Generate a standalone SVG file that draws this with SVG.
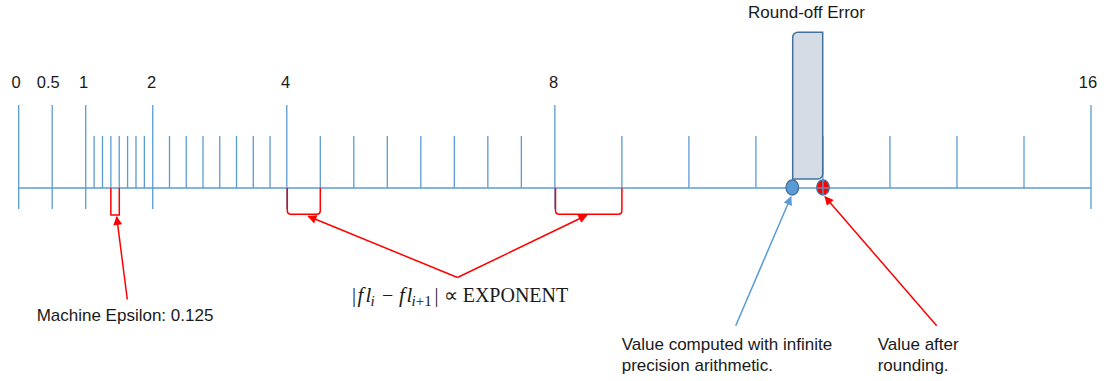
<svg xmlns="http://www.w3.org/2000/svg" width="1104" height="381" viewBox="0 0 1104 381">
  <style>
    .ax { stroke: #5b9bd5; stroke-width: 1.3; fill: none; }
    .lbl { font-family: "Liberation Sans", Arial, sans-serif; font-size: 17px; fill: #1a1a1a; }
    .num { font-family: "Liberation Sans", Arial, sans-serif; font-size: 16.5px; fill: #1a1a1a; text-anchor: middle; }
    .math { font-family: "Liberation Serif", "Times New Roman", serif; font-size: 20px; fill: #1a1a1a; }
    .it { font-style: italic; font-size: 21px; }
    .sub { font-size: 15px; }
    .red { stroke: #ff0000; stroke-width: 1.5; fill: none; }
    .blue { stroke: #5b9bd5; stroke-width: 1.5; fill: none; }
  </style>
  <defs>
    <marker id="ahRed" viewBox="0 0 10 10" refX="9" refY="5" markerWidth="10" markerHeight="9" markerUnits="userSpaceOnUse" orient="auto">
      <path d="M0,0 L10,5 L0,10 z" fill="#ff0000"/>
    </marker>
    <marker id="ahBlue" viewBox="0 0 10 10" refX="9" refY="5" markerWidth="10" markerHeight="9" markerUnits="userSpaceOnUse" orient="auto">
      <path d="M0,0 L10,5 L0,10 z" fill="#5b9bd5"/>
    </marker>
  </defs>

  <g id="number-line">
    <line class="ax" x1="18.7" y1="188" x2="1091" y2="188"/>
    <g id="major-ticks">
      <line class="ax" x1="18.7" y1="105" x2="18.7" y2="209"/>
      <line class="ax" x1="52.21" y1="105" x2="52.21" y2="209"/>
      <line class="ax" x1="85.72" y1="105" x2="85.72" y2="209"/>
      <line class="ax" x1="152.74" y1="105" x2="152.74" y2="209"/>
      <line class="ax" x1="286.78" y1="105" x2="286.78" y2="209"/>
      <line class="ax" x1="554.86" y1="105" x2="554.86" y2="209"/>
      <line class="ax" x1="1091" y1="105" x2="1091" y2="209"/>
    </g>
    <g id="minor-ticks">
      <line class="ax" x1="94.10" y1="136" x2="94.10" y2="188"/>
      <line class="ax" x1="102.48" y1="136" x2="102.48" y2="188"/>
      <line class="ax" x1="110.85" y1="136" x2="110.85" y2="188"/>
      <line class="ax" x1="119.23" y1="136" x2="119.23" y2="188"/>
      <line class="ax" x1="127.61" y1="136" x2="127.61" y2="188"/>
      <line class="ax" x1="135.99" y1="136" x2="135.99" y2="188"/>
      <line class="ax" x1="144.36" y1="136" x2="144.36" y2="188"/>
      <line class="ax" x1="169.50" y1="136" x2="169.50" y2="188"/>
      <line class="ax" x1="186.25" y1="136" x2="186.25" y2="188"/>
      <line class="ax" x1="203.01" y1="136" x2="203.01" y2="188"/>
      <line class="ax" x1="219.76" y1="136" x2="219.76" y2="188"/>
      <line class="ax" x1="236.52" y1="136" x2="236.52" y2="188"/>
      <line class="ax" x1="253.27" y1="136" x2="253.27" y2="188"/>
      <line class="ax" x1="270.03" y1="136" x2="270.03" y2="188"/>
      <line class="ax" x1="320.29" y1="136" x2="320.29" y2="188"/>
      <line class="ax" x1="353.80" y1="136" x2="353.80" y2="188"/>
      <line class="ax" x1="387.31" y1="136" x2="387.31" y2="188"/>
      <line class="ax" x1="420.82" y1="136" x2="420.82" y2="188"/>
      <line class="ax" x1="454.33" y1="136" x2="454.33" y2="188"/>
      <line class="ax" x1="487.84" y1="136" x2="487.84" y2="188"/>
      <line class="ax" x1="521.35" y1="136" x2="521.35" y2="188"/>
      <line class="ax" x1="621.88" y1="136" x2="621.88" y2="188"/>
      <line class="ax" x1="688.90" y1="136" x2="688.90" y2="188"/>
      <line class="ax" x1="755.92" y1="136" x2="755.92" y2="188"/>
      <line class="ax" x1="822.94" y1="136" x2="822.94" y2="188"/>
      <line class="ax" x1="889.96" y1="136" x2="889.96" y2="188"/>
      <line class="ax" x1="956.98" y1="136" x2="956.98" y2="188"/>
      <line class="ax" x1="1024.00" y1="136" x2="1024.00" y2="188"/>
    </g>
  </g>

  <g id="tick-labels">
    <text class="num" x="16" y="87.5">0</text>
    <text class="num" x="48.3" y="87.5">0.5</text>
    <text class="num" x="83.5" y="87.5">1</text>
    <text class="num" x="151.7" y="87.5">2</text>
    <text class="num" x="285.5" y="87.5">4</text>
    <text class="num" x="553.5" y="87.5">8</text>
    <text class="num" x="1088" y="87.5">16</text>
  </g>

  <g id="round-off-error">
    <path d="M797.7,32.3 H822.7 V174 A5,5 0 0 1 817.7,179 H792.7 V37.3 A5,5 0 0 1 797.7,32.3 Z" fill="#d6dce5" stroke="#41719c" stroke-width="1.5"/>
    <text class="lbl" x="806.5" y="17.5" text-anchor="middle">Round-off Error</text>
  </g>

  <g id="exact-value">
    <ellipse cx="792.3" cy="187.5" rx="6.3" ry="7.5" fill="#5b9bd5" stroke="#41719c" stroke-width="1.3"/>
  </g>

  <g id="rounded-value">
    <ellipse cx="823" cy="187.5" rx="6.3" ry="7.5" fill="#ff0000" stroke="#41719c" stroke-width="1.3"/>
    <line class="ax" x1="816.7" y1="188" x2="829.3" y2="188"/>
    <line class="ax" x1="822.94" y1="180" x2="822.94" y2="195"/>
  </g>

  <g id="connectors">
    <path class="red" d="M110.85,188 V215 H119.3 V188"/>
    <path class="red" d="M287.3,188 V210.5 Q287.3,214.3 291,214.3 H316.5 Q320.3,214.3 320.3,210.5 V188"/>
    <path class="red" d="M555.5,188 V210.5 Q555.5,214.3 559.3,214.3 H618 Q621.9,214.3 621.9,210.5 V188"/>
    <line class="red" x1="127.3" y1="299.5" x2="116.7" y2="216.8" marker-end="url(#ahRed)"/>
    <line class="red" x1="457.5" y1="277.5" x2="308.3" y2="216.3" marker-end="url(#ahRed)"/>
    <line class="red" x1="457.5" y1="277.5" x2="586.7" y2="215.3" marker-end="url(#ahRed)"/>
    <line class="blue" x1="735.7" y1="325.7" x2="791" y2="196.8" marker-end="url(#ahBlue)"/>
    <line class="red" x1="936.7" y1="325.7" x2="825" y2="196.8" marker-end="url(#ahRed)"/>
  </g>

  <g id="machine-epsilon-label">
    <text class="lbl" x="125" y="321" text-anchor="middle">Machine Epsilon: 0.125</text>
  </g>

  <g id="spacing-formula">
    <text class="math" y="301.7"><tspan x="352">|</tspan><tspan x="357.5" class="it">f</tspan><tspan x="365.5" class="it">l</tspan><tspan x="370.5" y="305.5" class="it sub">i</tspan><tspan x="382" y="301.7">−</tspan><tspan x="399" class="it">f</tspan><tspan x="406.5" class="it">l</tspan><tspan x="411.5" y="305.5" class="sub"><tspan class="it sub">i</tspan>+1</tspan><tspan x="434.5" y="301.7">|</tspan><tspan x="444">∝</tspan><tspan x="462.7">EXPONENT</tspan></text>
  </g>

  <g id="exact-value-label">
    <text class="lbl" x="621.7" y="350">Value computed with infinite</text>
    <text class="lbl" x="621.7" y="371">precision arithmetic.</text>
  </g>

  <g id="rounded-value-label">
    <text class="lbl" x="877.7" y="350">Value after</text>
    <text class="lbl" x="877.7" y="371">rounding.</text>
  </g>
</svg>
